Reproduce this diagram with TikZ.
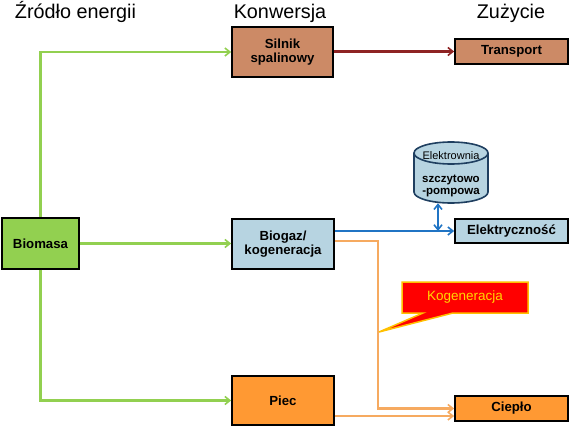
\documentclass[tikz,border=0pt]{standalone}
\usepackage{fontspec}
\setmainfont{Liberation Sans}
\usetikzlibrary{arrows.meta}
\definecolor{cgreen}{HTML}{92D050}
\definecolor{cbrown}{HTML}{CC8A66}
\definecolor{cblue}{HTML}{B7D4E1}
\definecolor{corange}{HTML}{FF9933}
\definecolor{lblue}{HTML}{2074C4}
\definecolor{lred}{HTML}{8E2323}
\definecolor{lorange}{HTML}{F6AA60}
\definecolor{cylborder}{HTML}{1F3F60}
\definecolor{callfill}{HTML}{FF0000}
\definecolor{callborder}{HTML}{FFC000}
\definecolor{calltext}{HTML}{FFD800}
\tikzset{
  box/.style={draw=black, line width=1.7pt, inner sep=0pt, align=center,
    font=\fontsize{13.2}{15}\selectfont\bfseries},
  head/.style={font=\fontsize{19.8}{22}\selectfont, inner sep=0pt, anchor=base},
  barb/.tip={Straight Barb[length=5pt,width=8pt,line width=1.6pt]},
  tip/.style={-barb},
  gline/.style={draw=cgreen, line width=2.2pt, tip},
  bline/.style={draw=lblue, line width=2.2pt, tip},
  rline/.style={draw=lred, line width=2.2pt, tip},
  oline/.style={draw=lorange, line width=2.2pt, tip},
}
\begin{document}
\begin{tikzpicture}[x=1pt,y=-1pt]
\useasboundingbox (0,0) rectangle (570,428);
% headings
\node[head] (h1) at (75.5,19) {Źródło energii};
\node[head] (h2) at (280,19) {Konwersja};
\node[head] (h3) at (511,19) {Zużycie};
% boxes
\node[box, fill=cbrown, minimum width=101pt, minimum height=50pt] (silnik) at (282.5,52) {Silnik\\[-1pt]spalinowy};
\node[box, fill=cbrown, minimum width=113pt, minimum height=25pt] (transport) at (511.5,51.5) {Transport};
\node[box, fill=cgreen, minimum width=77pt, minimum height=51pt] (bio) at (40.5,243.5) {Biomasa};
\node[box, fill=cblue, minimum width=102pt, minimum height=50pt] (biogaz) at (283,244) {Biogaz/\\[-1pt]kogeneracja};
\node[box, fill=corange, minimum width=102pt, minimum height=49pt] (piec) at (283,400.5) {Piec};
\node[box, fill=corange, minimum width=113pt, minimum height=25pt] (cieplo) at (511.5,408.5) {Ciepło};
\node[box, fill=cblue, minimum width=113pt, minimum height=24pt] (elek) at (511.5,231) {Elektryczność};
% cylinder
\fill[cblue] (414,153) -- (414,192) arc[start angle=180, end angle=360, x radius=37, y radius=-11] -- (488,153) -- cycle;
\fill[cblue] (451,153) ellipse[x radius=37, y radius=11];
\draw[cylborder, line width=1.6pt] (451,153) ellipse[x radius=37, y radius=11];
\draw[cylborder, line width=1.6pt] (414,153) -- (414,192) arc[start angle=180, end angle=360, x radius=37, y radius=-11] -- (488,153);
\node[inner sep=0pt, minimum width=74pt, minimum height=61pt] (cyl) at (451,172.5) {};
\node[font=\fontsize{11}{12}\selectfont, inner sep=0pt] (cyltop) at (451,156) {Elektrownia};
\node[font=\fontsize{11.5}{13}\selectfont\bfseries, inner sep=0pt, align=center] (cyltxt) at (451,186) {szczytowo\\[-1pt]-pompowa};
% connectors
\draw[gline] (bio.north) |- (silnik.west);
\draw[gline] (bio.east) -- (biogaz.west |- bio.east);
\draw[gline] (bio.south) |- (piec.west);
\draw[rline] (silnik.east |- transport.west) -- (transport.west);
\draw[bline] (biogaz.east |- elek.west) -- (elek.west);
\coordinate (junc) at (cyl.south -| 438,0);
\coordinate (juncb) at (438,0 |- elek.west);
\draw[draw=lblue, line width=2.2pt, barb-barb] (junc) -- (juncb);
\coordinate (kbend) at (378,241);
\draw[oline] (biogaz.east |- kbend) -- (kbend) |- (cieplo.west);
\coordinate (pl) at (334,416);
\draw[oline] (piec.east |- pl) -- (cieplo.west |- pl);
% callout
\draw[fill=callfill, draw=callborder, line width=1.5pt, line join=miter]
  (402,282) -- (528,282) -- (528,313) -- (453,313) -- (379,332) -- (423,313) -- (402,313) -- cycle;
\node[font=\fontsize{13.5}{15}\selectfont, text=calltext, inner sep=0pt] (kog) at (465,297.5) {Kogeneracja};
\end{tikzpicture}
\end{document}
